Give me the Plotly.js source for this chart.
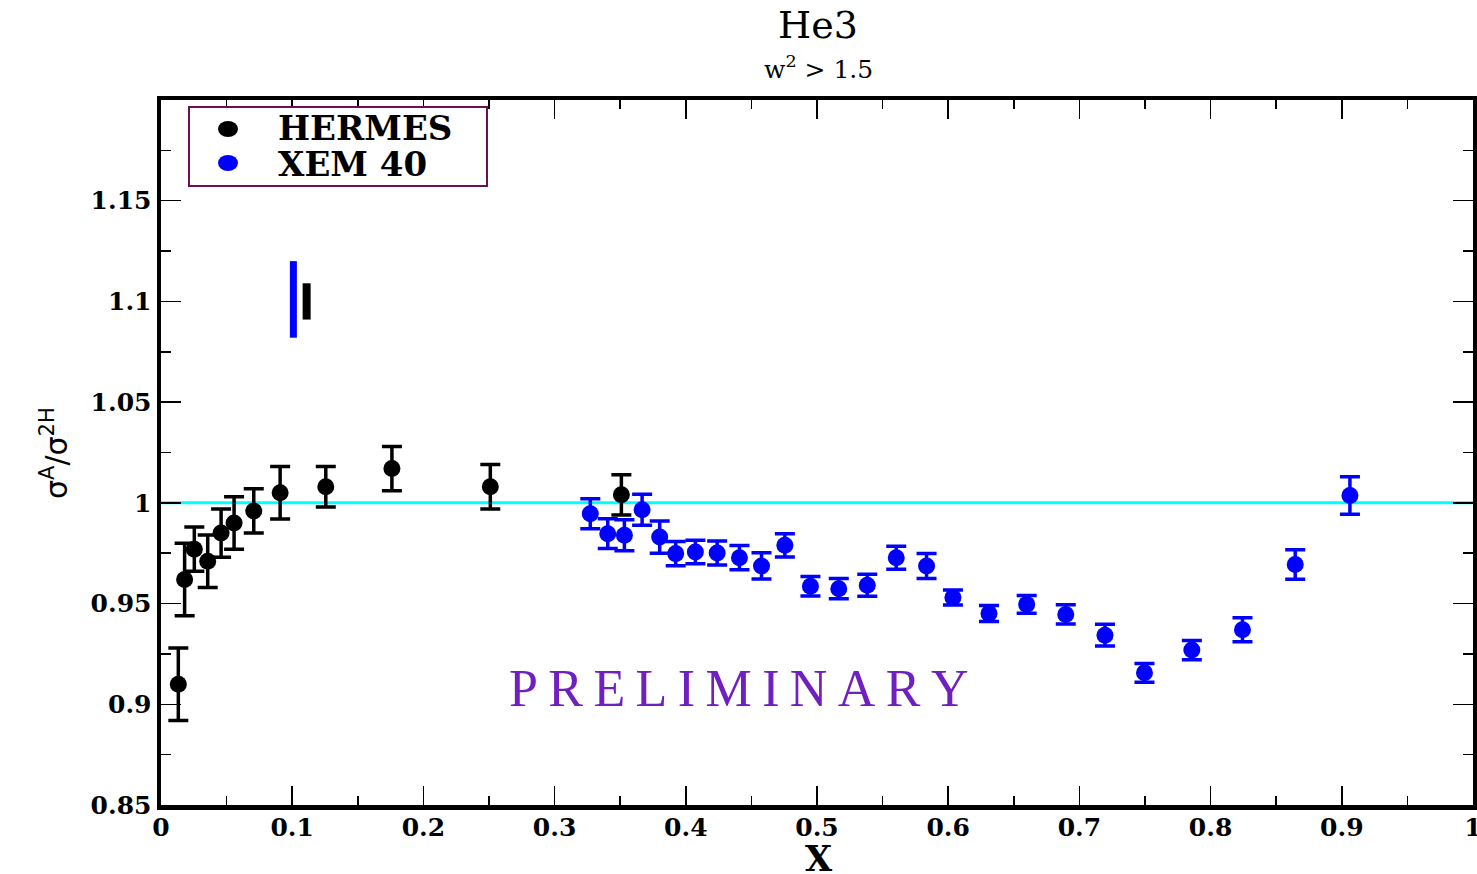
<!DOCTYPE html>
<html>
<head>
<meta charset="utf-8">
<script src="https://cdn.plot.ly/plotly-3.0.1.min.js"></script>
<style>html,body{margin:0;padding:0;background:#fff;}#chart{width:1477px;height:874px;}</style>
</head>
<body>
<div id="chart"></div>
<script>
// HERMES data
const hermesX = [0.0132, 0.018, 0.0254, 0.0356, 0.0458, 0.0557, 0.0707, 0.0908, 0.1256, 0.176, 0.251, 0.3509];
const hermesY = [0.910, 0.962, 0.977, 0.971, 0.985, 0.990, 0.996, 1.005, 1.008, 1.017, 1.008, 1.004];
const hermesErr = [0.018, 0.018, 0.011, 0.013, 0.012, 0.013, 0.011, 0.013, 0.010, 0.011, 0.011, 0.010];

// XEM 40 data
const xemX = [0.3272, 0.3405, 0.3532, 0.3667, 0.3801, 0.3923, 0.4073, 0.4239, 0.4409, 0.4577,
              0.4755, 0.4950, 0.5166, 0.5383, 0.5604, 0.5835, 0.6036, 0.6311, 0.6598, 0.6896,
              0.7195, 0.7496, 0.7857, 0.8243, 0.8645, 0.9062];
const xemY = [0.9946, 0.9847, 0.9839, 0.9966, 0.9830, 0.9748, 0.9756, 0.9751, 0.9728, 0.9687,
              0.9789, 0.9586, 0.9574, 0.9591, 0.9727, 0.9687, 0.9530, 0.9451, 0.9496, 0.9446,
              0.9343, 0.9156, 0.9269, 0.9370, 0.9694, 1.0037];
const xemErr = [0.0075, 0.0074, 0.0077, 0.0077, 0.0080, 0.0060, 0.0058, 0.0060, 0.0060, 0.0065,
                0.0058, 0.0048, 0.0050, 0.0055, 0.0057, 0.0062, 0.0037, 0.0040, 0.0044, 0.0048,
                0.0054, 0.0046, 0.0048, 0.0059, 0.0073, 0.0093];

// normalization uncertainty bars
const normXemX = [0.1009, 0.1009];
const normXemY = [1.082, 1.120];
const normHermesX = [0.111, 0.111];
const normHermesY = [1.091, 1.109];

// reference line
const refX = [0, 1];
const refY = [1, 1];

// axis ticks
const xTicks = [0, 0.1, 0.2, 0.3, 0.4, 0.5, 0.6, 0.7, 0.8, 0.9, 1];
const xTickText = ['0', '0.1', '0.2', '0.3', '0.4', '0.5', '0.6', '0.7', '0.8', '0.9', '1'];
const yTicks = [0.85, 0.9, 0.95, 1, 1.05, 1.1, 1.15];
const yTickText = ['0.85', '0.9', '0.95', '1', '1.05', '1.1', '1.15'];

const L = 161, R = 4, T = 100, B = 69, W = 1477, H = 874;
const pw = W - L - R, ph = H - T - B;
const px = v => (v - L) / pw;
const py = v => (H - B - v) / ph;

const serif = 'Liberation Serif, Times New Roman, serif';
const wide = 'DejaVu Serif, serif';

const traces = [
  {x: refX, y: refY, mode: 'lines', line: {color: '#00ffff', width: 3}, showlegend: false, hoverinfo: 'skip'},
  {x: normXemX, y: normXemY, mode: 'lines', line: {color: '#0000ff', width: 7}, showlegend: false},
  {x: normHermesX, y: normHermesY, mode: 'lines', line: {color: '#000000', width: 8}, showlegend: false},
  {x: hermesX, y: hermesY, name: 'HERMES', mode: 'markers', showlegend: false,
   marker: {color: '#000000', size: 17},
   error_y: {type: 'data', array: hermesErr, visible: true, color: '#000000', thickness: 3.5, width: 10}},
  {x: xemX, y: xemY, name: 'XEM 40', mode: 'markers', showlegend: false,
   marker: {color: '#0000ff', size: 17},
   error_y: {type: 'data', array: xemErr, visible: true, color: '#0000ff', thickness: 3.5, width: 10}}
];

const layout = {
  width: W, height: H,
  margin: {l: L, r: R, t: T, b: B},
  paper_bgcolor: '#fff', plot_bgcolor: '#fff',
  showlegend: false,
  xaxis: {
    range: [0, 1], tickvals: xTicks, ticktext: xTickText,
    ticks: 'inside', ticklen: 19, tickwidth: 1.5, tickcolor: '#000',
    minor: {dtick: 0.05, ticks: 'inside', ticklen: 9, tickwidth: 1.5, tickcolor: '#000', showgrid: false},
    showline: true, linewidth: 4.5, linecolor: '#000', mirror: 'ticks',
    showgrid: false, zeroline: false,
    ticklabeloverflow: 'allow', ticklabelstandoff: -4,
    tickfont: {family: wide, size: 25, color: '#000', weight: 'bold'}
  },
  yaxis: {
    range: [0.85, 1.2], tickvals: yTicks, ticktext: yTickText,
    ticks: 'inside', ticklen: 20, tickwidth: 1.5, tickcolor: '#000',
    minor: {dtick: 0.025, ticks: 'inside', ticklen: 10, tickwidth: 1.5, tickcolor: '#000', showgrid: false},
    showline: true, linewidth: 4.5, linecolor: '#000', mirror: 'ticks',
    showgrid: false, zeroline: false,
    tickfont: {family: wide, size: 25, color: '#000', weight: 'bold'}
  },
  annotations: [
    {xref: 'paper', yref: 'paper', x: px(818), y: py(25), text: 'He3', showarrow: false,
     font: {family: wide, size: 38, color: '#000'}, xanchor: 'center', yanchor: 'middle'},
    {xref: 'paper', yref: 'paper', x: px(818), y: py(68), text: 'w<sup>2</sup> > 1.5', showarrow: false,
     font: {family: wide, size: 25, color: '#000'}, xanchor: 'center', yanchor: 'middle'},
    {xref: 'paper', yref: 'paper', x: px(819), y: py(858), text: '<b>X</b>', showarrow: false,
     font: {family: wide, size: 35, color: '#000'}, xanchor: 'center', yanchor: 'middle'},
    {xref: 'paper', yref: 'paper', x: px(55), y: py(453), text: 'σ<sup>A</sup>/σ<sup>2</sup><sup>H</sup>', showarrow: false,
     textangle: -90, font: {family: 'DejaVu Sans, sans-serif', size: 30, color: '#000'}, xanchor: 'center', yanchor: 'middle'},
    {xref: 'x', yref: 'y', x: 0.440, y: 0.908, text: 'P\u2009R\u2009E\u2009L\u2009I\u2009M\u2009I\u2009N\u2009A\u2009R\u2009Y', showarrow: false,
     font: {family: serif, size: 52, color: '#7020c0'}, xanchor: 'center', yanchor: 'middle'},
    {xref: 'paper', yref: 'paper', x: px(276), y: py(128), text: '<b>HERMES</b>', showarrow: false,
     font: {family: wide, size: 34, color: '#000'}, xanchor: 'left', yanchor: 'middle'},
    {xref: 'paper', yref: 'paper', x: px(276), y: py(164), text: '<b>XEM 40</b>', showarrow: false,
     font: {family: wide, size: 34, color: '#000'}, xanchor: 'left', yanchor: 'middle'}
  ],
  shapes: [
    {type: 'rect', xref: 'paper', yref: 'paper', x0: px(189), x1: px(487), y0: py(186), y1: py(107),
     line: {color: '#6b1050', width: 2}, fillcolor: 'rgba(255,255,255,1)'},
    {type: 'circle', xref: 'paper', yref: 'paper', x0: px(218), x1: px(238), y0: py(137), y1: py(121),
     line: {width: 0}, fillcolor: '#000'},
    {type: 'circle', xref: 'paper', yref: 'paper', x0: px(218), x1: px(238), y0: py(171), y1: py(155),
     line: {width: 0}, fillcolor: '#0000ff'}
  ]
};

Plotly.newPlot('chart', traces, layout, {displayModeBar: false, staticPlot: true});
</script>
</body>
</html>
